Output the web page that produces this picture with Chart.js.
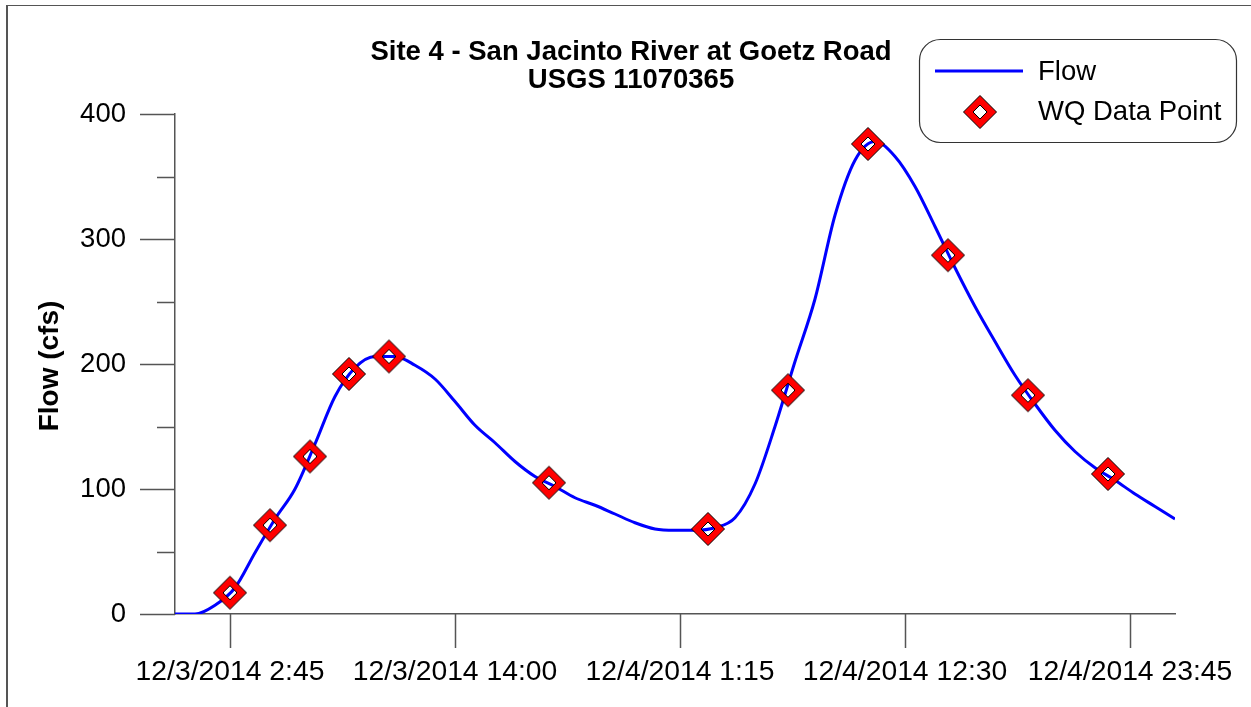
<!DOCTYPE html>
<html><head><meta charset="utf-8">
<script src="https://cdn.jsdelivr.net/npm/chart.js@4.4.1/dist/chart.umd.min.js"></script>
<style>html,body{margin:0;padding:0;background:#fff}#wrap{position:relative;width:1251px;height:707px}</style>
</head><body><div id="wrap"><canvas id="c" width="1251" height="707"></canvas></div>
<script>
const chartTitle = ["Site 4 - San Jacinto River at Goetz Road", "USGS 11070365"];
const yAxisTitle = "Flow (cfs)";
const seriesNames = ["Flow", "WQ Data Point"];
// time in hours since 12/3/2014 0:00
const flowHours = [0,1,2,3,4,5,6,7,8,9,10,11,12,13,14,15,16,17,18,19,20,21,22,23,24,25,26,27,28,29,30,31,32,33,34,35,36,37,38,39,40,41,42,43,44,45,46,47,48,49,50];
const flowValues = [0,0,7,21,49,76,100,136,174,197,206,206,199,188,170,151,137,122,110,102,93,87,80,73,68,67,67,69,77,104,150,202,252,319,363,378,366,342,310,277,246,218,191,168,147,130,117,107,96,86,76];
const wqHours = [2.75,4.75,6.75,8.7,10.7,18.7,26.65,30.65,34.65,38.65,42.65,46.65];
const wqValues = [17,71,126,192,206,105,68,179,376,287,175,112];
const xTickHours = [2.75,14,25.25,36.5,47.75];
const xTickLabels = ["12/3/2014 2:45","12/3/2014 14:00","12/4/2014 1:15","12/4/2014 12:30","12/4/2014 23:45"];
const yTickValues = [0,100,200,300,400];
const yMinorTickValues = [50,150,250,350];

const FONT = "'Liberation Sans', Arial, sans-serif";
const AXIS_COLOR = '#555555';

function makeDiamond(){
  const R = 16.5, r = 7, s = 36, m = s/2;
  const c = document.createElement('canvas'); c.width = s; c.height = s;
  const g = c.getContext('2d');
  g.beginPath();
  g.moveTo(m, m-R); g.lineTo(m+R, m); g.lineTo(m, m+R); g.lineTo(m-R, m); g.closePath();
  g.moveTo(m, m-r); g.lineTo(m-r, m); g.lineTo(m, m+r); g.lineTo(m+r, m); g.closePath();
  g.fillStyle = '#ff0000'; g.fill('evenodd');
  g.strokeStyle = '#000000'; g.lineWidth = 1; g.stroke();
  return c;
}
const diamond = makeDiamond();

const decor = {
  id: 'decor',
  afterDraw(chart){
    const ctx = chart.ctx, xs = chart.scales.x, ys = chart.scales.y;
    ctx.save();
    // outer frame (left + top)
    ctx.fillStyle = AXIS_COLOR;
    ctx.fillRect(6, 5, 2, 702);
    ctx.fillRect(6, 5, 1245, 1);
    // ticks
    ctx.strokeStyle = AXIS_COLOR; ctx.lineWidth = 1.5;
    ctx.beginPath();
    yTickValues.forEach(v => { const y = Math.round(ys.getPixelForValue(v)) + 0.5; ctx.moveTo(xs.left - 35, y); ctx.lineTo(xs.left, y); });
    yMinorTickValues.forEach(v => { const y = Math.round(ys.getPixelForValue(v)) + 0.5; ctx.moveTo(xs.left - 18, y); ctx.lineTo(xs.left, y); });
    xTickHours.forEach(v => { const x = Math.round(xs.getPixelForValue(v)) + 0.5; ctx.moveTo(x, ys.bottom); ctx.lineTo(x, ys.bottom + 34); });
    ctx.stroke();
    // title
    ctx.fillStyle = '#000';
    ctx.font = "bold 27.5px " + FONT;
    ctx.textAlign = 'center'; ctx.textBaseline = 'alphabetic';
    ctx.fillText(chartTitle[0], 631, 60);
    ctx.fillText(chartTitle[1], 631, 88);
    // y-axis title
    ctx.save();
    ctx.translate(58, 366); ctx.rotate(-Math.PI/2);
    ctx.font = "bold 28px " + FONT;
    ctx.textBaseline = 'alphabetic';
    ctx.fillText(yAxisTitle, 0, 0);
    ctx.restore();
    // legend box
    const bx = 919.5, by = 39.5, bw = 317, bh = 103, rr = 21;
    ctx.beginPath();
    ctx.roundRect(bx, by, bw, bh, rr);
    ctx.fillStyle = '#fff'; ctx.fill();
    ctx.strokeStyle = '#333'; ctx.lineWidth = 1.2; ctx.stroke();
    ctx.strokeStyle = '#0000ff'; ctx.lineWidth = 3;
    ctx.beginPath(); ctx.moveTo(935, 71); ctx.lineTo(1023, 71); ctx.stroke();
    ctx.drawImage(diamond, 980 - 18, 112 - 18);
    ctx.fillStyle = '#000'; ctx.font = "27.5px " + FONT;
    ctx.textAlign = 'left'; ctx.textBaseline = 'middle';
    ctx.fillText(seriesNames[0], 1038, 72);
    ctx.fillText(seriesNames[1], 1038, 112);
    ctx.restore();
  }
};

new Chart(document.getElementById('c'), {
  type: 'line',
  data: {
    datasets: [
      {
        label: seriesNames[1],
        data: wqHours.map((h, i) => ({x: h, y: wqValues[i]})),
        showLine: false,
        pointStyle: diamond,
        pointRadius: 17,
        order: 0,
        clip: false
      },
      {
        label: seriesNames[0],
        data: flowHours.map((h, i) => ({x: h, y: flowValues[i]})),
        borderColor: '#0000ff',
        borderWidth: 3,
        pointRadius: 0,
        cubicInterpolationMode: 'monotone',
        fill: false,
        order: 1
      }
    ]
  },
  options: {
    responsive: false,
    animation: false,
    events: [],
    layout: { padding: { top: 114, right: 76, left: 0, bottom: 0 } },
    plugins: { legend: { display: false }, title: { display: false }, tooltip: { enabled: false } },
    scales: {
      x: {
        type: 'linear', min: 0, max: 50,
        afterBuildTicks: s => { s.ticks = xTickHours.map(v => ({value: v})); },
        afterFit: s => { s.height = 93; s.paddingLeft = 0; s.paddingRight = 0; },
        grid: { display: false, drawTicks: false },
        border: { display: true, color: AXIS_COLOR, width: 1.5 },
        ticks: {
          autoSkip: false, maxRotation: 0, padding: 41, color: '#000',
          font: { family: FONT, size: 28.3 },
          callback: v => xTickLabels[xTickHours.indexOf(v)]
        }
      },
      y: {
        type: 'linear', min: 0, max: 400,
        afterBuildTicks: s => { s.ticks = yTickValues.map(v => ({value: v})); },
        afterFit: s => { s.width = 175; s.paddingTop = 0; s.paddingBottom = 0; },
        grid: { display: false, drawTicks: false },
        border: { display: true, color: AXIS_COLOR, width: 1.5 },
        ticks: {
          padding: 49, color: '#000',
          font: { family: FONT, size: 27.5 },
          callback: v => String(v)
        }
      }
    }
  },
  plugins: [decor]
});
</script>
</body></html>
